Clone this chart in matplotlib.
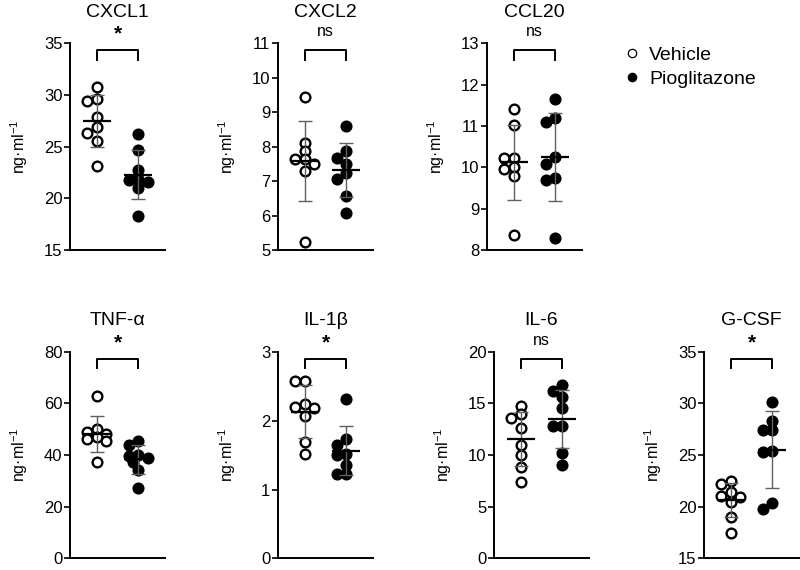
import matplotlib
matplotlib.use("Agg")
import matplotlib.pyplot as plt
import matplotlib.transforms as mtransforms
from matplotlib.lines import Line2D
import numpy as np

plt.rcParams["font.family"] = ["Liberation Sans", "DejaVu Sans"]
plt.rcParams["mathtext.default"] = "regular"

# values (ng/ml), 8 mice per group
titles = ["CXCL1", "CXCL2", "CCL20", "TNF-α", "IL-1β", "IL-6", "G-CSF"]
vehicle = [
    [30.8, 29.6, 29.4, 27.9, 26.9, 26.3, 25.5, 23.1],
    [9.45, 8.1, 7.87, 7.63, 7.63, 7.5, 7.3, 5.22],
    [11.4, 11.02, 10.22, 10.22, 10.0, 9.96, 9.8, 8.36],
    [62.7, 49.9, 49.0, 48.0, 47.0, 46.4, 45.5, 37.4],
    [2.58, 2.58, 2.24, 2.2, 2.18, 2.07, 1.69, 1.51],
    [14.74, 13.97, 13.6, 12.58, 10.97, 10.0, 8.87, 7.42],
    [22.5, 22.16, 21.45, 21.03, 20.97, 20.5, 19.03, 17.48],
]
pioglitazone = [
    [26.2, 24.7, 22.7, 21.9, 21.8, 21.6, 21.0, 18.3],
    [8.6, 7.87, 7.66, 7.5, 7.23, 7.05, 6.57, 6.08],
    [11.65, 11.19, 11.09, 10.26, 10.08, 9.73, 9.7, 8.3],
    [45.5, 44.0, 40.0, 39.5, 38.7, 37.5, 34.2, 27.3],
    [2.32, 1.73, 1.64, 1.52, 1.50, 1.35, 1.23, 1.23],
    [16.78, 16.2, 15.58, 14.52, 12.81, 12.81, 10.22, 9.03],
    [30.16, 28.29, 27.42, 27.42, 25.39, 25.32, 20.32, 19.77],
]
ylims = [(15, 35), (5, 11), (8, 13), (0, 80), (0, 3), (0, 20), (15, 35)]
ysteps = [5, 1, 1, 20, 1, 5, 5]
signif = ["*", "ns", "ns", "*", "*", "ns", "*"]

# axes placement in pixels (left edge, top edge) on an 800x570 canvas
W, H = 800, 570
ax_w, ax_h = 95, 206.7
lefts = [70, 278, 487, 70, 278, 494, 704]
tops = [43.3, 43.3, 43.3, 351.7, 351.7, 351.7, 351.7]

MS = 7            # marker size (pt)
DIAM = 9.5        # spacing between points in px
ERR_COLOR = "#606060"


def swarm(ax, vals, center):
    """beeswarm limited to +-1 point width; overlaps allowed when crowded"""
    pts = ax.transData.transform([(center, v) for v in vals])
    ppu = ax.transData.transform((1, 0))[0] - ax.transData.transform((0, 0))[0]
    ys = pts[:, 1]
    offs = np.zeros(len(vals))
    placed = []
    cands = [0, -1, 1, -0.5, 0.5]
    for i in np.argsort(-ys):
        best, best_d = 0.0, -1.0
        for c in cands:
            dx = c * DIAM
            d = min([np.hypot(dx - px, ys[i] - py) for px, py in placed] or [1e9])
            if d >= DIAM * 0.8:
                best = dx
                break
            if d > best_d:
                best, best_d = dx, d
        placed.append((best, ys[i]))
        offs[i] = best
    return center + offs / ppu


fig = plt.figure(figsize=(W / 100, H / 100), dpi=100)

for k in range(7):
    ax = fig.add_axes([lefts[k] / W, 1 - (tops[k] + ax_h) / H, ax_w / W, ax_h / H])
    lo, hi = ylims[k]
    ax.set_ylim(lo, hi)
    ax.set_xlim(-0.65, 1.65)
    ax.set_yticks(np.arange(lo, hi + ysteps[k] / 2, ysteps[k]))
    ax.set_xticks([])
    for s in ("top", "right"):
        ax.spines[s].set_visible(False)
    for s in ("left", "bottom"):
        ax.spines[s].set_linewidth(1.4)
    ax.tick_params(axis="y", length=4, width=1.2, pad=1.5, labelsize=12)

    for g, (vals, filled) in enumerate([(vehicle[k], False), (pioglitazone[k], True)]):
        vals = np.array(vals)
        xs = swarm(ax, vals, g)
        ax.plot(xs, vals, "o", ms=MS, mfc="black" if filled else "white",
                mec="black", mew=1.7, ls="none", zorder=2, clip_on=False)
        m, sd = vals.mean(), vals.std(ddof=1)
        ax.errorbar(g, m, yerr=sd, fmt="none", ecolor=ERR_COLOR, elinewidth=1.0,
                    capsize=5, capthick=1.0, zorder=3)
        ax.plot([g - 0.34, g + 0.34], [m, m], color="black", lw=1.6, zorder=4,
                solid_capstyle="butt")

    # significance bracket
    tr = mtransforms.blended_transform_factory(ax.transData, ax.transAxes)
    ax.plot([0, 0, 1, 1], [0.919, 0.967, 0.967, 0.919], color="black", lw=1.4,
            transform=tr, clip_on=False)
    if signif[k] == "*":
        ax.text(0.5, 1.045, "*", transform=tr, ha="center", va="center",
                fontsize=15, fontweight="bold")
    else:
        ax.text(0.5, 1.055, "ns", transform=tr, ha="center", va="center", fontsize=11.5)

    ax.text(0.5, 1 + 31 / ax_h, titles[k], transform=ax.transAxes, ha="center",
            va="center", fontsize=14)
    ax.set_ylabel("ng·ml$^{-1}$", fontsize=11.5)
    ax.yaxis.set_label_coords(-0.42, 0.5)

handles = [
    Line2D([], [], marker="o", ls="none", ms=6, mfc="white", mec="black", mew=0.9),
    Line2D([], [], marker="o", ls="none", ms=6, mfc="black", mec="black", mew=0.9),
]
fig.legend(handles, ["Vehicle", "Pioglitazone"], loc="upper left",
           bbox_to_anchor=(622 / W, 1 - 46 / H), frameon=False, fontsize=14,
           handlelength=1.0, handletextpad=0.4, labelspacing=0.35,
           borderpad=0, borderaxespad=0)

fig.savefig("out.png", dpi=100)
